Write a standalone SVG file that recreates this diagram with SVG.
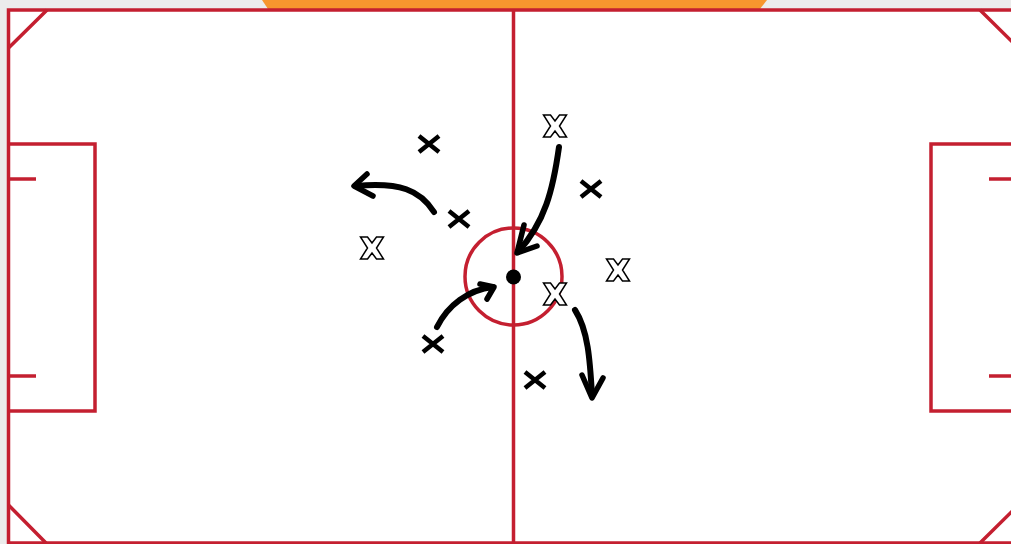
<svg xmlns="http://www.w3.org/2000/svg" width="1011" height="544" viewBox="0 0 1011 544">
<style>
.line{fill:none;stroke:#c41f30;stroke-width:3.5}
.pitch{fill:#fff;stroke:#c41f30;stroke-width:3.5}
.arrow{fill:none;stroke:#000;stroke-width:6;stroke-linecap:round;stroke-linejoin:round}
.head{fill:none;stroke:#000;stroke-width:5.5;stroke-linecap:round;stroke-linejoin:round}
</style>
<defs>
<g id="xs"><path d="M-10,-8 L10,8 M-10,8 L10,-8" fill="none" stroke="#000" stroke-width="4.5"/></g>
<g id="xh"><polygon points="-11.5,-11 -4.5,-11 0,-5 4.5,-11 11.5,-11 4.5,0 11.5,11 4.5,11 0,5 -4.5,11 -11.5,11 -4.5,0" fill="#fff" stroke="#000" stroke-width="1.5" stroke-linejoin="miter"/></g>
</defs>
<rect x="0" y="0" width="1011" height="544" fill="#ececec"/>
<polygon points="262,0 767,0 760,9 268,9" fill="#f7962e"/>
<g id="field">
<rect x="8.5" y="10" width="1010" height="533" class="pitch"/>
<line x1="513.5" y1="10" x2="513.5" y2="544" class="line"/>
<circle cx="513.5" cy="276.5" r="48.5" class="line"/>
<circle cx="513.5" cy="277" r="7.5" fill="#000"/>
<path d="M8.5,48 L47,10 M980,10 L1018.5,48 M8.5,505 L46,543 M980,543 L1018.5,505" class="line"/>
<path d="M8.5,144 H95 V411 H8.5 M8.5,179 H36 M8.5,376 H36" class="line"/>
<path d="M1018.5,144 H931 V411 H1018.5 M1018.5,179 H989 M1018.5,376 H989" class="line"/>
</g>
<g id="players">
<use href="#xs" x="429" y="144"/>
<use href="#xs" x="459" y="219"/>
<use href="#xs" x="591" y="189"/>
<use href="#xs" x="433" y="344"/>
<use href="#xs" x="535" y="380"/>
<use href="#xh" x="555" y="126"/>
<use href="#xh" x="372" y="248"/>
<use href="#xh" x="618" y="270"/>
<use href="#xh" x="555" y="294"/>
</g>
<g id="connectors">
<path class="arrow" d="M434,212 C420,190 400,182 356,186"/>
<path class="head" d="M367,174 L354,186 L373,196"/>
<path class="arrow" d="M559,147 C553,190 545,222 518,252"/>
<path class="head" d="M524,225 L517,253 L537,246"/>
<path class="arrow" d="M437,327 C448,305 468,290 493,287"/>
<path class="head" d="M480,284 L494,287 L487,299"/>
<path class="arrow" d="M575,310 C588,330 590,360 592,395"/>
<path class="head" d="M582,375 L592,398 L603,378"/>
</g>
</svg>
